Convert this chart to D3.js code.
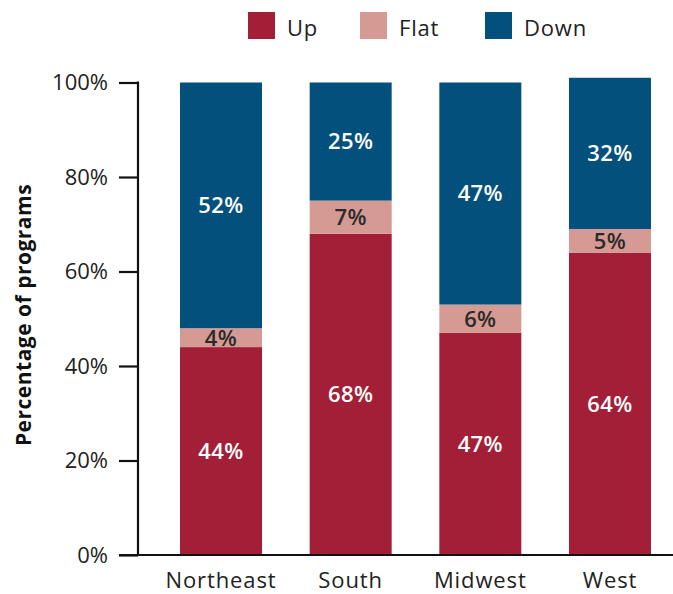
<!DOCTYPE html>
<html>
<head>
<meta charset="utf-8">
<script src="https://cdn.jsdelivr.net/npm/d3@7"></script>
<style>
  html, body { margin: 0; padding: 0; background: #fff; }
  svg { display: block; font-family: "Open Sans", sans-serif; }
</style>
</head>
<body>
<svg id="chart" width="673" height="594"></svg>
<script>
const categories = ["Northeast", "South", "Midwest", "West"];
const seriesNames = ["Up", "Flat", "Down"];
const upValues   = [44, 68, 47, 64];
const flatValues = [4, 7, 6, 5];
const downValues = [52, 25, 47, 32];
const yTicks = [0, 20, 40, 60, 80, 100];
const colors = ["#A31F37", "#D49A93", "#03507D"];
const labelColors = ["#ffffff", "#2a2a2a", "#ffffff"];

const rows = categories.map((c, i) => ({
  category: c, Up: upValues[i], Flat: flatValues[i], Down: downValues[i]
}));

const svg = d3.select("#chart");
const axisX = 138, baseY = 555, topY = 82.5;

const y = d3.scaleLinear().domain([0, 100]).range([baseY, topY]);
const x = d3.scaleBand().domain(categories)
  .range([axisX, 693]).paddingInner(0.3676).paddingOuter(0.324).align(0.5);

const stack = d3.stack().keys(seriesNames);
const stacked = stack(rows);

const g = svg.append("g");
stacked.forEach((layer, si) => {
  g.selectAll(null).data(layer).enter().append("rect")
    .attr("x", d => x(d.data.category))
    .attr("width", x.bandwidth())
    .attr("y", d => y(d[1]))
    .attr("height", d => y(d[0]) - y(d[1]))
    .attr("fill", colors[si]);
  g.selectAll(null).data(layer).enter().append("text")
    .attr("x", d => x(d.data.category) + x.bandwidth() / 2)
    .attr("y", d => (y(d[0]) + y(d[1])) / 2)
    .attr("dy", "0.36em")
    .attr("text-anchor", "middle")
    .attr("font-size", 22)
    .attr("font-weight", 600)
    .attr("letter-spacing", 0.4)
    .attr("fill", labelColors[si])
    .text(d => (d[1] - d[0]) + "%");
});

// Y axis
const yAxis = d3.axisLeft(y).tickValues(yTicks).tickFormat(d => d + "%")
  .tickSize(19).tickPadding(11);
const ya = svg.append("g").attr("transform", `translate(${axisX},0)`).call(yAxis);
ya.select(".domain").remove();
ya.selectAll(".tick line").attr("stroke", "#111").attr("stroke-width", 2.2);
ya.selectAll(".tick text").attr("font-size", 22).attr("fill", "#222")
  .attr("font-family", "Open Sans, sans-serif");
svg.append("line").attr("x1", axisX).attr("x2", axisX)
  .attr("y1", topY - 1.1).attr("y2", baseY)
  .attr("stroke", "#111").attr("stroke-width", 2.2);

// X axis
const xAxis = d3.axisBottom(x).tickSize(0).tickPadding(0);
const xa = svg.append("g").attr("transform", `translate(0,${baseY})`).call(xAxis);
xa.select(".domain").remove();
xa.selectAll(".tick text").attr("font-size", 22).attr("fill", "#222")
  .attr("font-family", "Open Sans, sans-serif")
  .attr("letter-spacing", 0.9)
  .attr("dy", null).attr("y", 33);
svg.append("line").attr("x1", 119).attr("x2", 673)
  .attr("y1", baseY).attr("y2", baseY)
  .attr("stroke", "#111").attr("stroke-width", 2.2);

// Y title
svg.append("text")
  .attr("transform", "translate(31,315) rotate(-90)")
  .attr("text-anchor", "middle")
  .attr("font-size", 21)
  .attr("font-weight", 700)
  .attr("letter-spacing", 0.5)
  .attr("fill", "#111")
  .text("Percentage of programs");

// Legend
const legendX = [248, 360, 485];
const leg = svg.append("g");
seriesNames.forEach((s, i) => {
  leg.append("rect").attr("x", legendX[i]).attr("y", 12)
    .attr("width", 27).attr("height", 27).attr("fill", colors[i]);
  leg.append("text").attr("x", legendX[i] + 39).attr("y", 36)
    .attr("font-size", 22).attr("letter-spacing", 0.8)
    .attr("fill", "#222").text(s);
});
</script>
</body>
</html>
